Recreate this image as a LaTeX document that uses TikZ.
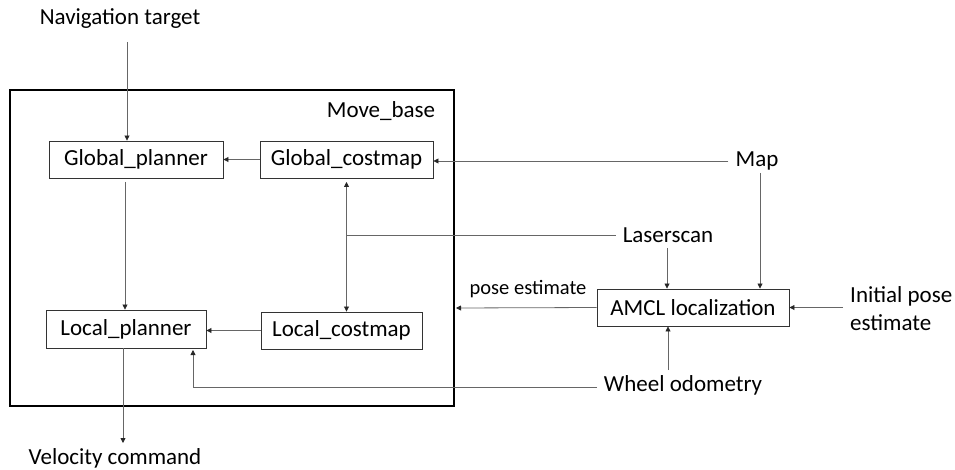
\documentclass[tikz,border=0pt]{standalone}
\usepackage{fontspec}
\setmainfont{Carlito}
\usetikzlibrary{arrows.meta}
\begin{document}
\begin{tikzpicture}[x=1pt,y=-1pt,
  every node/.style={font=\fontsize{23}{28}\selectfont, inner sep=0pt},
  blk/.style={draw=black!80, line width=0.9pt, text=black},
  lbl/.style={text=black, inner xsep=7pt, inner ysep=3pt},
  conn/.style={draw=black!60, line width=0.8pt, -{Triangle[width=5pt,length=5pt,color=black!85]}},
  link/.style={draw=black!60, line width=0.8pt},
  both/.style={draw=black!60, line width=0.8pt, {Triangle[width=5pt,length=5pt,color=black!85]}-{Triangle[width=5pt,length=5pt,color=black!85]}}
]
\useasboundingbox (0,0) rectangle (955,470);

% move_base frame
\node[draw=black, line width=1.4pt, minimum width=444pt, minimum height=316pt] (mb) at (232,248) {};
\node[text=black] (mbname) at (381,111) {Move\_base};

% blocks inside move_base
\node[blk, minimum width=174pt, minimum height=37pt] (gp) at (136,159.5) {Global\_planner};
\node[blk, minimum width=173pt, minimum height=37pt] (gc) at (346.5,159.5) {Global\_costmap};
\node[blk, minimum width=160pt, minimum height=38pt] (lp) at (126,329) {Local\_planner};
\node[blk, minimum width=161pt, minimum height=37pt] (lc) at (341.5,330.5) {Local\_costmap};

% localization block
\node[blk, minimum width=192pt, minimum height=37pt] (amcl) at (693,307.5) {AMCL localization};

% external inputs and outputs
\node[lbl] (nav) at (120,19) {Navigation target};
\node[lbl] (map) at (757,161) {Map};
\node[lbl] (laser) at (668,235) {Laserscan};
\node[lbl] (wheel) at (683,385) {Wheel odometry};
\node[lbl, anchor=west, align=left] (init) at (843,309) {Initial pose\\estimate};
\node[lbl] (vel) at (115,458) {Velocity command};
\node[lbl, font=\fontsize{20.5}{24}\selectfont] (posel) at (528,289) {pose estimate};

% line ends and bend points
\coordinate (navstart) at (127,42);
\coordinate (gpout) at (125,182);
\coordinate (gcout) at (346.5,182);
\coordinate (maptop) at (760,173);
\coordinate (laserout) at (667,248);
\coordinate (poseend) at (456,308);
\coordinate (wheeltop) at (668,370);
\coordinate (wheelout) at (597,387);
\coordinate (lpin) at (193,350);
\coordinate (lpout) at (123,348);
\coordinate (velend) at (123,443);

% connectors
\draw[conn] (navstart) -- (navstart |- gp.north);
\draw[conn] (gpout) -- (gpout |- lp.north);
\draw[conn] (gc.west) -- (gp.east);
\draw[conn] (lc.west) -- (lc.west -| lp.east);
\draw[conn] (map.west) -- (map.west -| gc.east);
\draw[conn] (maptop) -- (maptop |- amcl.north);
\draw[both] (gcout) -- (gcout |- lc.north);
\draw[link] (laser.west) -- (laser.west -| gc.south);
\draw[conn] (laserout) -- (laserout |- amcl.north);
\draw[conn] (amcl.west) -- (poseend);
\draw[conn] (init.west |- amcl.east) -- (amcl.east);
\draw[conn] (wheeltop) -- (wheeltop |- amcl.south);
\draw[conn] (wheelout) -| (lpin);
\draw[conn] (lpout) -- (velend);
\end{tikzpicture}
\end{document}
